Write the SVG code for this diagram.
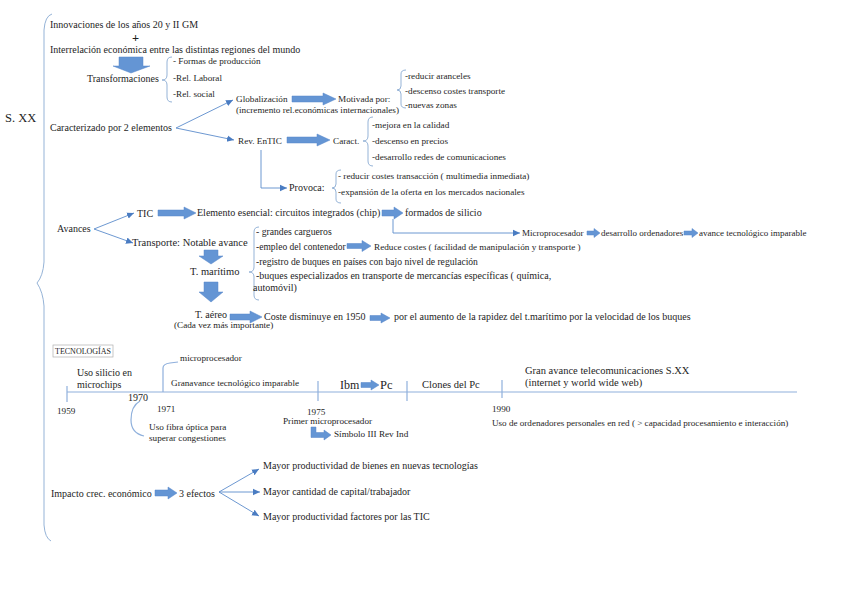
<svg xmlns="http://www.w3.org/2000/svg" width="848" height="599" viewBox="0 0 848 599">
<defs>
<style>
text{font-family:"Liberation Serif","Times New Roman",serif;fill:#1e1e1e;font-size:10px}
.s{font-size:9.2px}
.b{font-size:10.5px}
.l{font-size:12.5px}
.plus{font-size:12.5px;font-weight:bold}
.blk{fill:#6495d4;stroke:#5585c8;stroke-width:0.5}
.ln{fill:none;stroke:#5c8ccc;stroke-width:0.9}
.br{fill:none;stroke:#95b3d7;stroke-width:1}
.tl{fill:none;stroke:#8fb0dc;stroke-width:1.2}
</style>
<marker id="ah" markerWidth="8" markerHeight="8" refX="7" refY="4" orient="auto" markerUnits="userSpaceOnUse">
<path d="M0,0.8 L7,4 L0,7.2 Z" fill="#4a7cc2"/>
</marker>
</defs>
<rect width="848" height="599" fill="#ffffff"/>

<g id="braces">
<path class="br" d="M52,14 Q45,16 44,30 L44,262 Q43,276 37,283 Q43,292 44,306 L44,525 Q45,538 51,541"/>
<path class="br" d="M172,57 Q167,57 167,62 L167,75 Q167,80 162,80 Q167,80 167,85 L167,97 Q167,102 172,102"/>
<path class="br" d="M406,70 Q401,70 401,74 L401,86 Q401,90 397,90 Q401,90 401,94 L401,104 Q401,108 406,108"/>
<path class="br" d="M373,117 Q368,117 368,122 L368,136 Q368,141 363,141 Q368,141 368,146 L368,161 Q368,166 373,166"/>
<path class="br" d="M341,170 Q336,170 336,174 L336,184 Q336,188 332,188 Q336,188 336,192 L336,199 Q336,203 341,203"/>
<path class="br" d="M259,227 Q254,227 254,232 L254,267 Q254,272 249,272 Q254,272 254,277 L254,295 Q254,300 259,300"/>
</g>

<g id="connectors">
<line class="ln" x1="176" y1="128" x2="233" y2="100" marker-end="url(#ah)"/>
<line class="ln" x1="176" y1="128" x2="234" y2="140" marker-end="url(#ah)"/>
<polyline class="ln" points="261,150 261,188 287,188" marker-end="url(#ah)"/>
<line class="ln" x1="94" y1="229" x2="134" y2="213" marker-end="url(#ah)"/>
<line class="ln" x1="94" y1="229" x2="133" y2="243" marker-end="url(#ah)"/>
<polyline class="ln" points="393,219 393,233 520,233" marker-end="url(#ah)"/>
<line class="ln" x1="219" y1="492" x2="259" y2="469" marker-end="url(#ah)"/>
<line class="ln" x1="219" y1="492" x2="260" y2="492" marker-end="url(#ah)"/>
<line class="ln" x1="219" y1="492" x2="259" y2="516" marker-end="url(#ah)"/>
<path class="blk" d="M119,57 L143,57 L143,66 L150,66 L131,73 L113,66 L119,66 Z"/>
<path class="blk" d="M292,96 L323,96 L323,93 L336,99 L323,105 L323,102 L292,102 Z"/>
<path class="blk" d="M287,137 L317,137 L317,134 L330,140 L317,146 L317,143 L287,143 Z"/>
<path class="blk" d="M158,210 L184,210 L184,207 L196,213 L184,219 L184,216 L158,216 Z"/>
<path class="blk" d="M382,210 L394,210 L394,207 L403,213 L394,219 L394,216 L382,216 Z"/>
<path class="blk" d="M587,231 L594,231 L594,228.5 L600,233 L594,237.5 L594,235 L587,235 Z"/>
<path class="blk" d="M684,231 L692,231 L692,228.5 L698,233 L692,237.5 L692,235 L684,235 Z"/>
<path class="blk" d="M347,243.5 L362,243.5 L362,240.5 L371,246 L362,251.5 L362,248.5 L347,248.5 Z"/>
<path class="blk" d="M204,250 L218,250 L218,256 L223,256 L211,264 L199,256 L204,256 Z"/>
<path class="blk" d="M204,282 L218,282 L218,292 L223,292 L211,302 L199,292 L204,292 Z"/>
<path class="blk" d="M230,314 L250,314 L250,311 L262,317 L250,323 L250,320 L230,320 Z"/>
<path class="blk" d="M370,315.5 L381,315.5 L381,313 L390,318 L381,323 L381,320.5 L370,320.5 Z"/>
<path class="blk" d="M361,382.5 L371,382.5 L371,380 L379,385 L371,390 L371,387.5 L361,387.5 Z"/>
<path class="blk" d="M311,427 L316,427 L316,432.5 L324,432.5 L324,430 L331,435 L324,440 L324,437.5 L311,437.5 Z"/>
<path class="blk" d="M155,490 L168,490 L168,487 L177,493 L168,499 L168,496 L155,496 Z"/>
</g>

<g id="sxx"><text class="l" x="5" y="122">S. XX</text></g>
<g id="innovaciones"><text x="50" y="28">Innovaciones de los años 20 y II GM</text></g>
<g id="plus"><text class="plus" x="132" y="41.5">+</text></g>
<g id="interrelacion"><text x="50" y="53">Interrelación económica entre las distintas regiones del mundo</text></g>
<g id="transformaciones">
<text x="87" y="82">Transformaciones</text>
<text class="s" x="173" y="64">- Formas de producción</text>
<text class="s" x="173" y="81">-Rel. Laboral</text>
<text class="s" x="173" y="97">-Rel. social</text>
</g>
<g id="caracterizado"><text x="50" y="131">Caracterizado por 2 elementos</text></g>
<g id="globalizacion">
<text class="s" x="236" y="102">Globalización</text>
<text class="s" x="236" y="113">(incremento rel.económicas internacionales)</text>
</g>
<g id="motivada">
<text class="s" x="338" y="102">Motivada por:</text>
<text class="s" x="405" y="79">-reducir aranceles</text>
<text class="s" x="405" y="94">-descenso costes transporte</text>
<text class="s" x="405" y="108">-nuevas zonas</text>
</g>
<g id="revtic"><text class="s" x="238" y="144">Rev. EnTIC</text></g>
<g id="caract">
<text class="s" x="333" y="144">Caract.</text>
<text class="s" x="372" y="128">-mejora en la calidad</text>
<text class="s" x="372" y="144">-descenso en precios</text>
<text class="s" x="372" y="160">-desarrollo redes de comunicaciones</text>
</g>
<g id="provoca">
<text x="289" y="191">Provoca:</text>
<text class="s" x="338" y="179">- reducir costes transacción ( multimedia inmediata)</text>
<text class="s" x="338" y="195">-expansión de la oferta en los mercados nacionales</text>
</g>
<g id="avances"><text x="57" y="232">Avances</text></g>
<g id="tic"><text x="137" y="217">TIC</text></g>
<g id="elemento"><text x="197" y="216">Elemento esencial: circuitos integrados (chip)</text></g>
<g id="formados"><text x="405" y="216">formados de silicio</text></g>
<g id="microprocesador"><text style="font-size:9px" x="522" y="236">Microprocesador</text></g>
<g id="desarrollo"><text style="font-size:9px" x="601" y="236">desarrollo ordenadores</text></g>
<g id="avance"><text style="font-size:9px" x="699" y="236">avance tecnológico imparable</text></g>
<g id="transporte"><text class="b" x="132" y="246">Transporte: Notable avance</text></g>
<g id="maritimo-items">
<text style="font-size:9.7px" x="256" y="235">- grandes cargueros</text>
<text style="font-size:9.5px" x="256" y="250">-empleo del contenedor</text>
<text class="s" x="374" y="250">Reduce costes ( facilidad de manipulación y transporte )</text>
<text style="font-size:9.6px" x="256" y="265">-registro de buques en países con bajo nivel de regulación</text>
<text x="256" y="279">-buques especializados en transporte de mercancías específicas ( química,</text>
<text x="253" y="291">automóvil)</text>
</g>
<g id="maritimo"><text class="b" x="190" y="275">T. marítimo</text></g>
<g id="aereo">
<text x="195" y="318">T. aéreo</text>
<text class="s" x="174" y="328">(Cada vez más importante)</text>
</g>
<g id="coste"><text x="264" y="320">Coste disminuye en 1950</text></g>
<g id="rapidez"><text x="394" y="320">por el aumento de la rapidez del t.marítimo por la velocidad de los buques</text></g>

<g id="tecnologias">
<rect x="53" y="345" width="60" height="12" fill="#ffffff" stroke="#b0b0b0" stroke-width="0.7"/>
<text x="55" y="354" style="font-size:8px">TECNOLOGÍAS</text>
</g>
<g id="timeline">
<line class="tl" x1="67" y1="392" x2="797" y2="392"/>
<line class="tl" x1="67" y1="386" x2="67" y2="402"/>
<line class="tl" x1="318" y1="381" x2="318" y2="401"/>
<line class="tl" x1="407" y1="381" x2="407" y2="401"/>
<line class="tl" x1="502" y1="380" x2="502" y2="398"/>
<path class="tl" d="M163,392 L163,368 Q163,364 170,363 L178,362"/>
<path class="tl" d="M140,401 Q131,406 131,420 Q131,433 144,436"/>
<text class="s" x="180" y="361">microprocesador</text>
<text x="77" y="376">Uso silicio en</text>
<text x="77" y="388">microchips</text>
<text x="128" y="401">1970</text>
<text class="s" x="57" y="414">1959</text>
<text class="s" x="157" y="412">1971</text>
<text class="s" x="149" y="430">Uso fibra óptica para</text>
<text class="s" x="149" y="441">superar congestiones</text>
<text class="s" x="171" y="386">Granavance tecnológico imparable</text>
<text style="font-size:12px" x="340" y="389">Ibm</text>
<text class="l" x="380" y="389">Pc</text>
<text class="b" x="422" y="388">Clones del Pc</text>
<text class="s" x="307" y="415">1975</text>
<text class="s" x="283" y="424">Primer microprocesador</text>
<text class="s" x="334" y="437">Símbolo III Rev Ind</text>
<text class="b" x="525" y="374">Gran avance telecomunicaciones S.XX</text>
<text class="b" x="525" y="386">(internet y world wide web)</text>
<text class="s" x="492" y="412">1990</text>
<text style="font-size:9.1px" x="492" y="426">Uso de ordenadores personales en red ( &gt; capacidad procesamiento e interacción)</text>
</g>

<g id="impacto"><text x="51" y="497">Impacto crec. económico</text></g>
<g id="efectos"><text x="179" y="497">3 efectos</text></g>
<g id="efecto1"><text x="263" y="469">Mayor productividad de bienes en nuevas tecnologías</text></g>
<g id="efecto2"><text x="263" y="495">Mayor cantidad de capital/trabajador</text></g>
<g id="efecto3"><text x="263" y="520">Mayor productividad factores por las TIC</text></g>
</svg>
